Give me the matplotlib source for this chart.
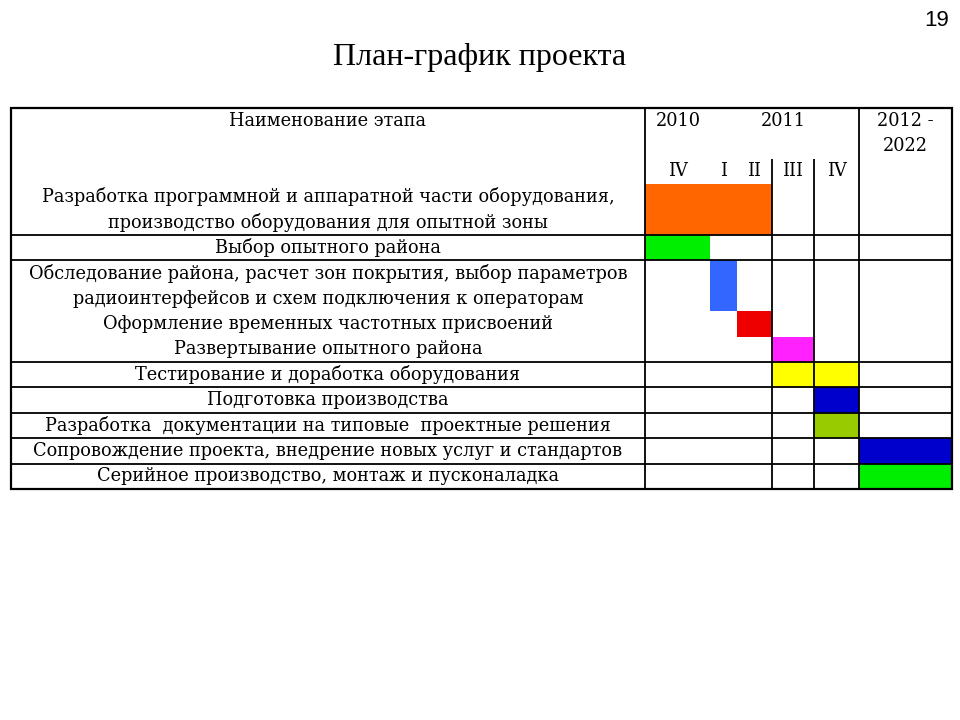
import matplotlib
matplotlib.use("Agg")
import matplotlib.pyplot as plt
from matplotlib.patches import Rectangle

# ---------------- data ----------------
title = "План-график проекта"
page_no = "19"
name_header = "Наименование этапа"
year_labels = ["2010", "2011"]
late_period_label = ["2012 -", "2022"]
quarter_labels = ["IV", "I", "II", "III", "IV"]

task_lines = [
    ["Разработка программной и аппаратной части оборудования,",
     "производство оборудования для опытной зоны"],
    ["Выбор опытного района"],
    ["Обследование района, расчет зон покрытия, выбор параметров",
     "радиоинтерфейсов и схем подключения к операторам"],
    ["Оформление временных частотных присвоений"],
    ["Развертывание опытного района"],
    ["Тестирование и доработка оборудования"],
    ["Подготовка производства"],
    ["Разработка  документации на типовые  проектные решения"],
    ["Сопровождение проекта, внедрение новых услуг и стандартов"],
    ["Серийное производство, монтаж и пусконаладка"],
]
# period index: 0=IV 2010, 1=I 2011, 2=II 2011, 3=III 2011, 4=IV 2011, 5=2012-2022
task_start = [0, 0, 1, 2, 3, 3, 4, 4, 5, 5]
task_end = [3, 1, 2, 3, 4, 5, 5, 5, 6, 6]
task_colors = ["#FF6600", "#00EE00", "#3366FF", "#EE0000", "#FF22FF",
               "#FFFF00", "#0000CC", "#99CC00", "#0000CC", "#00EE00"]
row_group = [0, 1, 2, 2, 2, 3, 4, 5, 6, 7]

# ---------------- layout ----------------
W, H = 960, 720
tbl_left, tbl_right, tbl_top, tbl_bottom = 11, 952, 108, 489
name_right = 645
period_edges = [645, 710, 737, 772, 814, 859, 952]
header_lines = 3
n_lines = header_lines + sum(len(t) for t in task_lines)

fig = plt.figure(figsize=(9.6, 7.2), dpi=100)
fig.patch.set_facecolor("white")

ax = fig.add_axes([tbl_left / W, 1 - tbl_bottom / H,
                   (tbl_right - tbl_left) / W, (tbl_bottom - tbl_top) / H])
ax.set_xlim(tbl_left, tbl_right)
ax.set_ylim(n_lines, 0)
ax.axis("off")

txt_font = dict(family="DejaVu Serif", fontsize=12.8, color="black")

# bars
row_top = header_lines
row_tops = []
for lines in task_lines:
    row_tops.append(row_top)
    row_top += len(lines)

for i, lines in enumerate(task_lines):
    x0 = period_edges[task_start[i]]
    x1 = period_edges[task_end[i]]
    ax.barh(row_tops[i], x1 - x0, left=x0, height=len(lines), align="edge",
            color=task_colors[i], edgecolor="none", zorder=1)

# grid lines
lw = 1.3
ax.vlines([name_right, period_edges[5]], 0, n_lines, color="black", lw=lw, zorder=3)
ax.vlines([period_edges[3], period_edges[4]], 2, n_lines, color="black", lw=lw, zorder=3)
for i in range(1, len(task_lines)):
    if row_group[i] != row_group[i - 1]:
        ax.hlines(row_tops[i], tbl_left, tbl_right, color="black", lw=lw, zorder=3)
ax.add_patch(Rectangle((tbl_left, 0), tbl_right - tbl_left, n_lines, fill=False,
                       edgecolor="black", lw=1.6, zorder=4, clip_on=False))

# texts
name_cx = (tbl_left + name_right) / 2
ax.text(name_cx, 0.5, name_header, ha="center", va="center", **txt_font)
for i, lines in enumerate(task_lines):
    for j, line in enumerate(lines):
        ax.text(name_cx, row_tops[i] + j + 0.5, line, ha="center", va="center", **txt_font)

ax.text(678, 0.5, year_labels[0], ha="center", va="center", **txt_font)
ax.text(783, 0.5, year_labels[1], ha="center", va="center", **txt_font)
late_cx = (period_edges[5] + period_edges[6]) / 2
ax.text(late_cx, 0.5, late_period_label[0], ha="center", va="center", **txt_font)
ax.text(late_cx, 1.5, late_period_label[1], ha="center", va="center", **txt_font)
for k, q in enumerate(quarter_labels):
    cx = (period_edges[k] + period_edges[k + 1]) / 2
    ax.text(cx, 2.5, q, ha="center", va="center", **txt_font)

fig.text(480 / W, 1 - 57 / H, title, ha="center", va="center",
         family="Liberation Serif", fontsize=23, color="black")
fig.text(937 / W, 1 - 20 / H, page_no, ha="center", va="center",
         family="Liberation Sans", fontsize=16, color="black")

fig.savefig("out.png", dpi=100, facecolor="white")
